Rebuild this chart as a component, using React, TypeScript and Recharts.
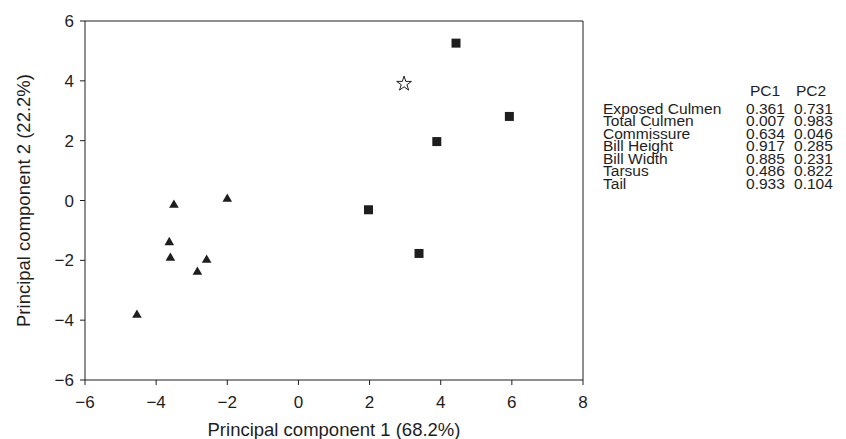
import { ScatterChart, Scatter, XAxis, YAxis, ReferenceLine, Symbols } from 'recharts';

// group A (triangles)
const triX = [-3.5, -2.0, -3.63, -3.6, -2.58, -2.84, -4.54];
const triY = [-0.15, 0.05, -1.4, -1.92, -1.99, -2.39, -3.83];
// group B (squares)
const sqX = [4.43, 5.93, 3.89, 1.97, 3.39];
const sqY = [5.26, 2.81, 1.97, -0.31, -1.77];
// single star
const starX = [2.97];
const starY = [3.9];

const xTicks = [-6, -4, -2, 0, 2, 4, 6, 8];
const yTicks = [-6, -4, -2, 0, 2, 4, 6];

const variables = ['Exposed Culmen', 'Total Culmen', 'Commissure', 'Bill Height', 'Bill Width', 'Tarsus', 'Tail'];
const pc1 = ['0.361', '0.007', '0.634', '0.917', '0.885', '0.486', '0.933'];
const pc2 = ['0.731', '0.983', '0.046', '0.285', '0.231', '0.822', '0.104'];

const FONT = '"Liberation Sans", Arial, Helvetica, sans-serif';
const INK = '#1e1e1e';
const ROW = 12.6;

const toPoints = (xs: number[], ys: number[]) => xs.map((x, i) => ({ x, y: ys[i] }));

const fmt = (v: number) => (v < 0 ? '\u2212' + Math.abs(v) : String(v));

const Tri = (p: any) => <Symbols cx={p.cx} cy={p.cy} type="triangle" size={40} fill={INK} />;
const Sq = (p: any) => <Symbols cx={p.cx} cy={p.cy} type="square" size={81} fill={INK} />;
const Star = (p: any) => (
  <Symbols cx={p.cx} cy={p.cy} type="star" size={68} fill="#fff" stroke={INK} strokeWidth={1} />
);

// one column of the loadings table as a single text block
function Column({ left, top, lines }: { left: number; top: number; lines: string[] }) {
  return (
    <div
      style={{
        position: 'absolute',
        left,
        top,
        lineHeight: ROW + 'px',
        transform: 'scaleX(1.11)',
        transformOrigin: 'left top',
      }}
    >
      {lines.map((l, i) => (
        <span key={i}>
          {l}
          {i < lines.length - 1 && <br />}
        </span>
      ))}
    </div>
  );
}

export default function App() {
  const tickStyle = { fill: INK, fontSize: 17, fontFamily: FONT };
  const headTop = 91.5 - ROW / 2;
  const bodyTop = 108.8 - ROW / 2;

  return (
    <div style={{ position: 'absolute', left: 0, top: 0, width: 846, height: 439, background: '#fff' }}>
      <ScatterChart width={846} height={439} margin={{ top: 21, right: 263, left: 0, bottom: 0 }}>
        <XAxis
          type="number"
          dataKey="x"
          domain={[-6, 8]}
          ticks={xTicks}
          tickFormatter={fmt}
          height={59}
          stroke={INK}
          tickSize={5}
          tickMargin={11}
          tick={tickStyle}
          allowDataOverflow
          label={{
            value: 'Principal component 1 (68.2%)',
            position: 'insideBottom',
            offset: 3,
            style: { fill: INK, fontSize: 18.5, fontFamily: FONT },
          }}
        />
        <YAxis
          type="number"
          dataKey="y"
          domain={[-6, 6]}
          ticks={yTicks}
          tickFormatter={fmt}
          width={85}
          stroke={INK}
          tickSize={5}
          tickMargin={6}
          tick={tickStyle}
          allowDataOverflow
          label={{
            value: 'Principal component 2 (22.2%)',
            angle: -90,
            position: 'insideLeft',
            offset: 23,
            style: { fill: INK, fontSize: 18.5, fontFamily: FONT, textAnchor: 'middle' },
          }}
        />
        <ReferenceLine x={8} stroke={INK} />
        <ReferenceLine y={6} stroke={INK} />
        <Scatter data={toPoints(triX, triY)} shape={Tri} isAnimationActive={false} />
        <Scatter data={toPoints(sqX, sqY)} shape={Sq} isAnimationActive={false} />
        <Scatter data={toPoints(starX, starY)} shape={Star} isAnimationActive={false} />
      </ScatterChart>

      <div style={{ position: 'absolute', left: 0, top: 0, fontFamily: FONT, fontSize: 14, color: INK, whiteSpace: 'nowrap' }}>
        <Column left={750} top={headTop} lines={['PC1']} />
        <Column left={796} top={headTop} lines={['PC2']} />
        <Column left={603} top={bodyTop} lines={variables} />
        <Column left={746} top={bodyTop} lines={pc1} />
        <Column left={794} top={bodyTop} lines={pc2} />
      </div>
    </div>
  );
}
